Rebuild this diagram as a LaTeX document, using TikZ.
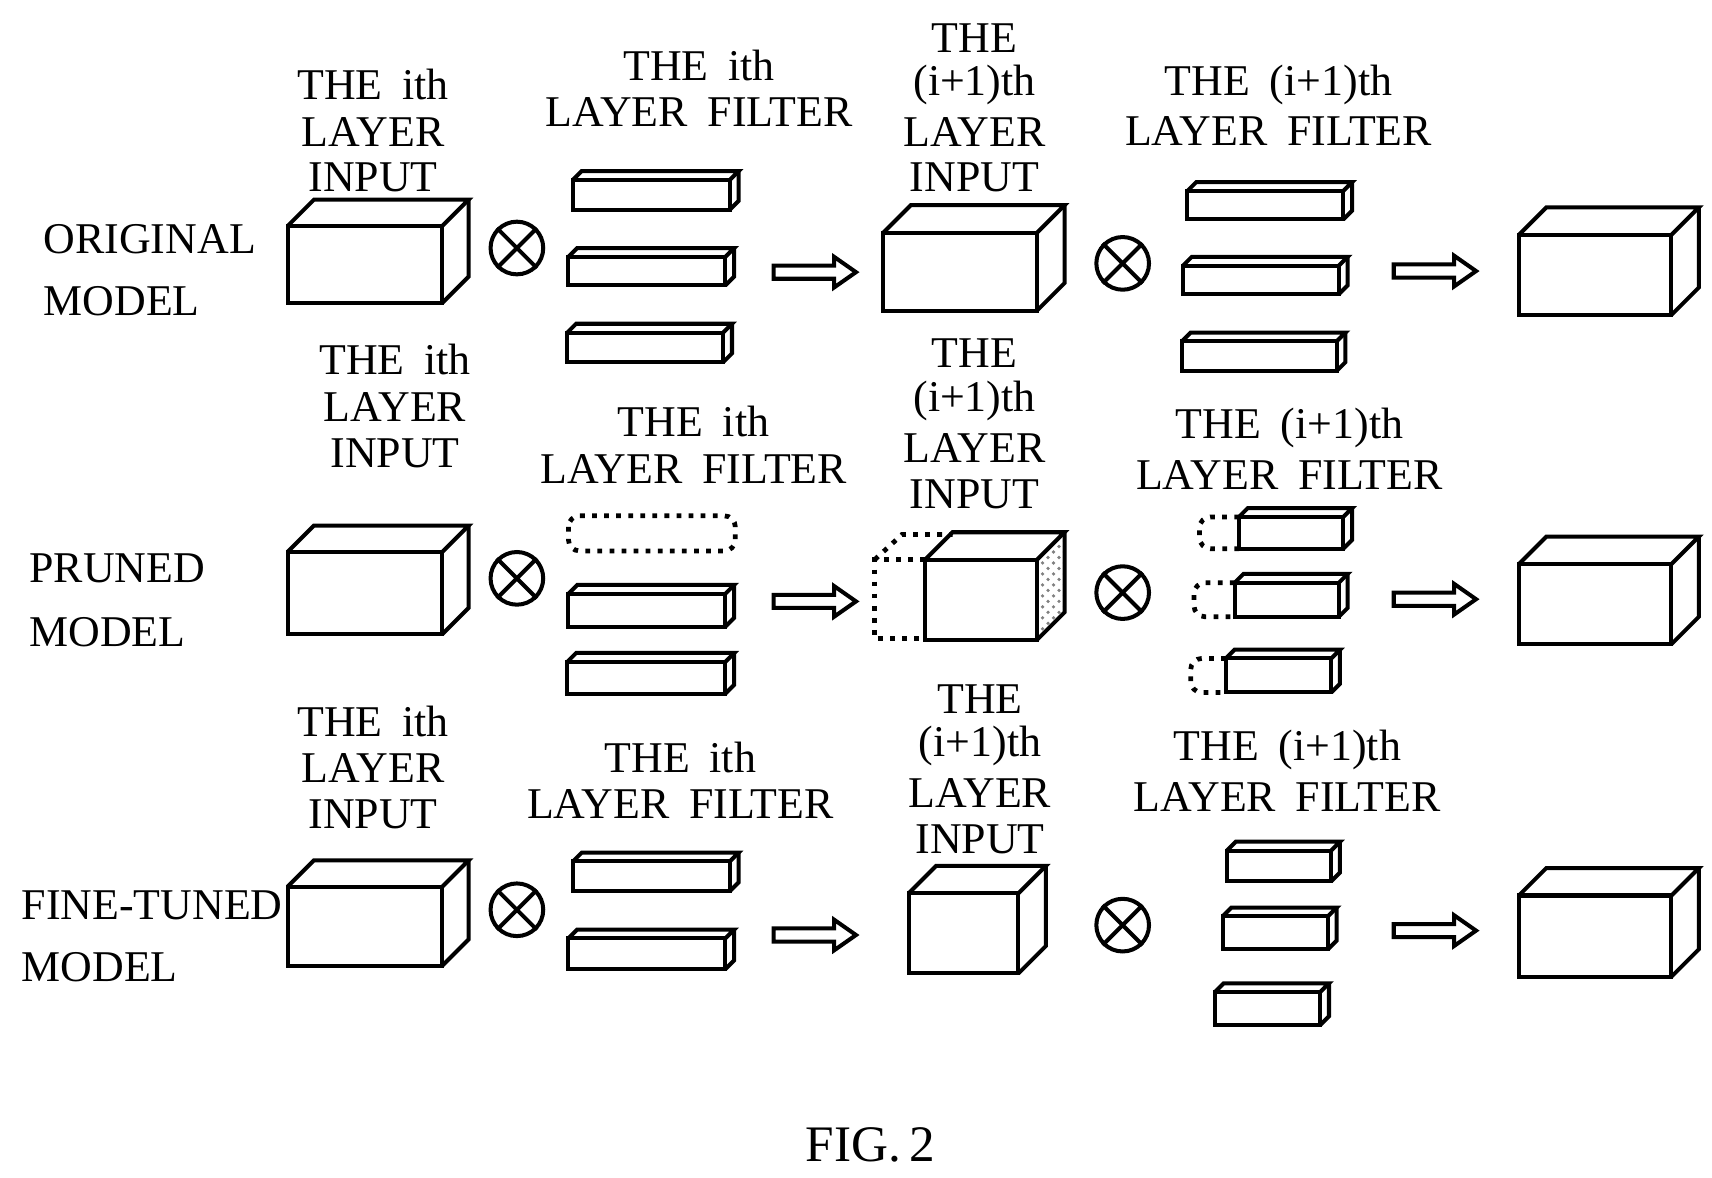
\documentclass[tikz,border=0pt]{standalone}
\usepackage{fontspec}
\setmainfont{Liberation Serif}
\usetikzlibrary{calc,patterns}
\newcommand\cube[6][]{% [style] x1 y1 x2 y2 d
  \draw[#1] (#2,#3) rectangle (#4,#5);
  \draw[#1] (#2,#3)--++(#6,-#6)--($(#4,#3)+(#6,-#6)$)--(#4,#3);
  \draw[#1] ($(#4,#3)+(#6,-#6)$)--($(#4,#5)+(#6,-#6)$)--(#4,#5);}
\newcommand\harrow[3]{\draw (#1,#3-6)--(#2-20,#3-6)--(#2-20,#3-14)--(#2,#3)--(#2-20,#3+14)--(#2-20,#3+6)--(#1,#3+6)--cycle;}
\newcommand\otim[3]{\node[circle,draw,minimum size=48*0.3pt,inner sep=0pt,line width=1.1pt] (#1) at (#2,#3) {};
  \draw (#1.north east)--(#1.south west) (#1.north west)--(#1.south east);}
\newcommand\gapsp{\hspace{0.45em}}
\begin{document}
\begin{tikzpicture}[x=0.3pt,y=-0.3pt,line width=1.1pt,line join=miter,
  lab/.style={font=\fontsize{12}{14}\selectfont,align=center,inner sep=0pt},
  side/.style={font=\fontsize{12}{14}\selectfont,anchor=west,inner sep=0pt},
  dot/.style={dotted,line width=1.3pt}]
\useasboundingbox (0,0) rectangle (1560,1073);
% ---------- row 1
\node[side] (o1) at (38,218) {ORIGINAL};
\node[side] (o2) at (38,274) {MODEL};
\node[lab] (l11) at (340,77) {THE\gapsp ith};
\node[lab] (l12) at (340,120) {LAYER};
\node[lab] (l13) at (340,162) {INPUT};
\node[lab] (l14) at (637,60) {THE\gapsp ith};
\node[lab] (l15) at (637,102) {LAYER\gapsp FILTER};
\node[lab] (l16) at (888,35) {THE};
\node[lab] (l17) at (888,77) {(i+1)th};
\node[lab] (l18) at (888,120) {LAYER};
\node[lab] (l19) at (888,162) {INPUT};
\node[lab] (l1a) at (1165,77) {THE\gapsp (i+1)th};
\node[lab] (l1b) at (1165,119) {LAYER\gapsp FILTER};
\cube{262}{206}{403}{276}{24}
\otim{x11}{471}{226}
\cube{522}{164}{665}{191}{8}
\cube{518}{234}{661}{260}{8}
\cube{517}{303}{659}{330}{8}
\harrow{705}{780}{248}
\cube{805}{212}{945}{283}{25}
\otim{x12}{1023}{240}
\cube{1082}{174}{1224}{200}{8}
\cube{1078}{242}{1220}{268}{8}
\cube{1077}{311}{1218}{338}{8}
\harrow{1270}{1345}{247}
\cube{1384}{214}{1523}{287}{25}
% ---------- row 2
\node[side] (p1) at (25,518) {PRUNED};
\node[side] (p2) at (25,576) {MODEL};
\node[lab] (l21) at (360,328) {THE\gapsp ith};
\node[lab] (l22) at (360,371) {LAYER};
\node[lab] (l23) at (360,413) {INPUT};
\node[lab] (l24) at (632,384) {THE\gapsp ith};
\node[lab] (l25) at (632,427) {LAYER\gapsp FILTER};
\node[lab] (l26) at (888,322) {THE};
\node[lab] (l27) at (888,365) {(i+1)th};
\node[lab] (l28) at (888,408) {LAYER};
\node[lab] (l29) at (888,450) {INPUT};
\node[lab] (l2a) at (1175,390) {THE\gapsp (i+1)th};
\node[lab] (l2b) at (1175,433) {LAYER\gapsp FILTER};
\cube{262}{503}{403}{578}{24}
\otim{x21}{471}{527}
\draw[dot,rounded corners=3pt] (518,470) rectangle (670,502);
\cube{518}{541}{661}{571}{8}
\cube{517}{603}{661}{632}{8}
\harrow{705}{780}{548}
\draw[dot] (843,510)--(797,510)--(797,582)--(843,582);
\draw[dot] (797,510)--(822,487)--(868,487);
\fill[pattern=crosshatch dots,pattern color=gray] (945,510)--(970,487)--(970,559)--(945,583)--cycle;
\cube{843}{510}{945}{583}{25}
\otim{x22}{1023}{540}
\draw[dot,rounded corners=3pt] (1129,471)--(1093,471)--(1093,500)--(1129,500);
\cube{1129}{471}{1224}{500}{8}
\draw[dot,rounded corners=3pt] (1125,531)--(1088,531)--(1088,562)--(1125,562);
\cube{1125}{531}{1220}{562}{8}
\draw[dot,rounded corners=3pt] (1117,600)--(1085,600)--(1085,631)--(1117,631);
\cube{1117}{600}{1213}{631}{8}
\harrow{1270}{1345}{546}
\cube{1384}{514}{1523}{587}{25}
% ---------- row 3
\node[side] (f1) at (18,825) {FINE-TUNED};
\node[side] (f2) at (18,881) {MODEL};
\node[lab] (l31) at (340,657) {THE\gapsp ith};
\node[lab] (l32) at (340,700) {LAYER};
\node[lab] (l33) at (340,742) {INPUT};
\node[lab] (l34) at (620,690) {THE\gapsp ith};
\node[lab] (l35) at (620,733) {LAYER\gapsp FILTER};
\node[lab] (l36) at (893,637) {THE};
\node[lab] (l37) at (893,680) {(i+1)th};
\node[lab] (l38) at (893,723) {LAYER};
\node[lab] (l39) at (893,765) {INPUT};
\node[lab] (l3a) at (1173,683) {THE\gapsp (i+1)th};
\node[lab] (l3b) at (1173,726) {LAYER\gapsp FILTER};
\cube{262}{808}{403}{880}{24}
\otim{x31}{471}{829}
\cube{522}{785}{665}{812}{8}
\cube{518}{855}{661}{883}{8}
\harrow{705}{780}{852}
\cube{828}{814}{928}{887}{25}
\otim{x32}{1023}{843}
\cube{1118}{775}{1213}{803}{8}
\cube{1114}{835}{1210}{865}{8}
\cube{1107}{904}{1203}{934}{8}
\harrow{1270}{1345}{848}
\cube{1384}{816}{1523}{890}{25}
\node[lab,font=\fontsize{14}{17}\selectfont] (fig) at (793,1043) {FIG.\,2};
\end{tikzpicture}
\end{document}
